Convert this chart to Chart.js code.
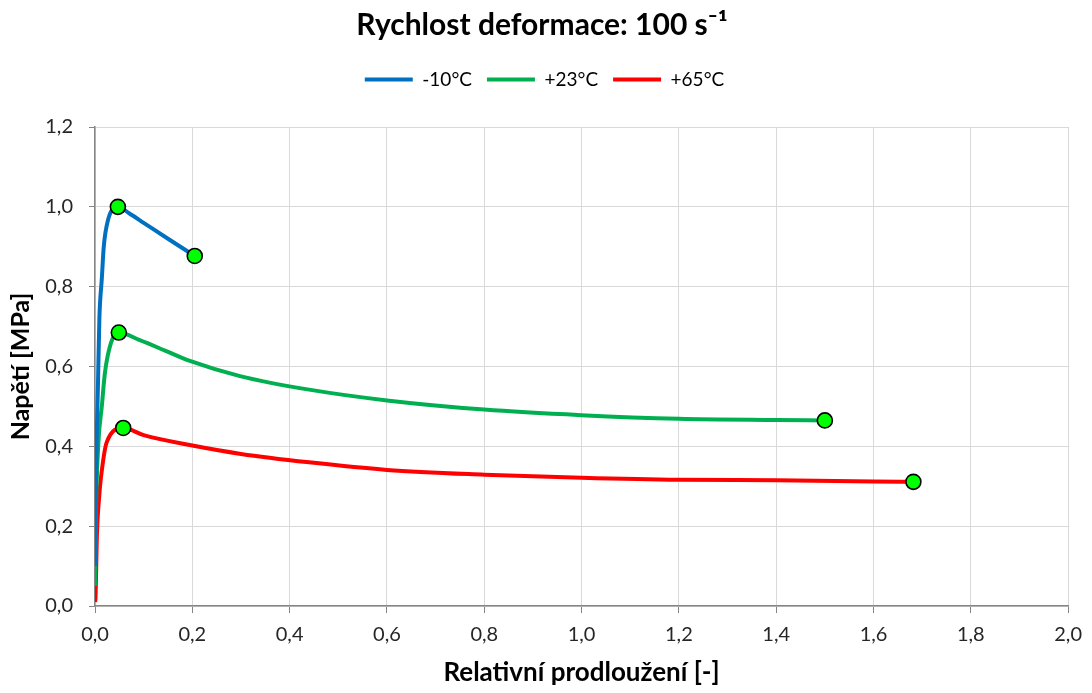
<!DOCTYPE html>
<html>
<head>
<meta charset="utf-8">
<script src="https://cdn.jsdelivr.net/npm/chart.js@4.4.1/dist/chart.umd.min.js"></script>
<style>
  html, body { margin: 0; padding: 0; background: #ffffff; }
  #wrap { width: 1092px; height: 693px; position: relative; }
</style>
</head>
<body>
<div id="wrap"><canvas id="c" width="1092" height="693"></canvas></div>
<script>
// Stress–strain curves at strain rate 100 s^-1 for three temperatures
const seriesNames = ['-10°C', '+23°C', '+65°C'];
const seriesColors = ['#0070c0', '#00b050', '#ff0000'];

const strainCold = [0.000, 0.002, 0.004, 0.006, 0.009, 0.014, 0.018, 0.027, 0.047, 0.070, 0.100, 0.150, 0.205];
const stressCold = [0.10, 0.30, 0.45, 0.55, 0.72, 0.82, 0.90, 0.968, 1.00, 0.984, 0.960, 0.920, 0.877];

const strainRoom = [0.000, 0.002, 0.007, 0.014, 0.0205, 0.033, 0.049, 0.092, 0.144, 0.195, 0.298, 0.44, 0.60, 0.80, 1.00, 1.20, 1.40, 1.50];
const stressRoom = [0.05, 0.24, 0.41, 0.50, 0.585, 0.66, 0.685, 0.666, 0.640, 0.614, 0.576, 0.542, 0.515, 0.492, 0.478, 0.469, 0.466, 0.465];

const strainHot = [0.000, 0.001, 0.004, 0.009, 0.0117, 0.024, 0.058, 0.10, 0.20, 0.30, 0.44, 0.60, 0.80, 1.00, 1.20, 1.40, 1.60, 1.682];
const stressHot = [0.01, 0.02, 0.18, 0.28, 0.316, 0.41, 0.446, 0.428, 0.402, 0.381, 0.360, 0.341, 0.329, 0.321, 0.316, 0.315, 0.312, 0.311];

// indices of the highlighted points (maximum stress and rupture) in each series
const markedCold = [8, 12];
const markedRoom = [6, 17];
const markedHot = [6, 17];

const xTickLabels = ['0,0', '0,2', '0,4', '0,6', '0,8', '1,0', '1,2', '1,4', '1,6', '1,8', '2,0'];
const yTickLabels = ['0,0', '0,2', '0,4', '0,6', '0,8', '1,0', '1,2'];

const FONT = 'Lato, "Open Sans", "Liberation Sans", sans-serif';

function pts(xs, ys) { return xs.map((x, i) => ({ x: x, y: ys[i] })); }

function makeSet(name, color, xs, ys, marked) {
  return {
    label: name,
    data: pts(xs, ys),
    borderColor: color,
    backgroundColor: color,
    borderWidth: 4,
    cubicInterpolationMode: 'monotone',
    pointRadius: ctx => marked.includes(ctx.dataIndex) ? 7.5 : 0,
    pointHoverRadius: 0,
    pointBackgroundColor: '#00ff00',
    pointBorderColor: '#000000',
    pointBorderWidth: 1.6,
    fill: false
  };
}

// extra room under the legend row, and title/legend centred a little to the right
const headerLayout = {
  id: 'headerLayout',
  afterInit(chart) {
    const lg = chart.legend;
    if (!lg) return;
    const fit = lg.fit;
    lg.fit = function () {
      fit.call(this);
      this.height += 28;
    };
  },
  afterLayout(chart) {
    if (chart.legend) chart.legend.left += 20;
    if (chart.titleBlock) chart.titleBlock.left += 15;
  }
};

new Chart(document.getElementById('c'), {
  type: 'line',
  data: {
    datasets: [
      makeSet(seriesNames[0], seriesColors[0], strainCold, stressCold, markedCold),
      makeSet(seriesNames[1], seriesColors[1], strainRoom, stressRoom, markedRoom),
      makeSet(seriesNames[2], seriesColors[2], strainHot, stressHot, markedHot)
    ]
  },
  plugins: [headerLayout],
  options: {
    responsive: false,
    animation: false,
    layout: { padding: { top: 0, right: 23, bottom: 0, left: 0 } },
    plugins: {
      tooltip: { enabled: false },
      title: {
        display: true,
        text: 'Rychlost deformace: 100 s\u207B\u00B9',
        color: '#000000',
        font: { family: FONT, size: 30, weight: 'bold' },
        padding: { top: 7, bottom: 12 }
      },
      legend: {
        display: true,
        labels: {
          usePointStyle: true,
          pointStyle: 'line',
          pointStyleWidth: 48,
          color: '#222222',
          padding: 15,
          font: { family: FONT, size: 19 },
          generateLabels: chart => chart.data.datasets.map((ds, i) => ({
            text: ds.label,
            strokeStyle: ds.borderColor,
            fillStyle: ds.borderColor,
            lineWidth: 4,
            pointStyle: 'line',
            hidden: false,
            datasetIndex: i
          }))
        }
      }
    },
    scales: {
      x: {
        type: 'linear',
        min: 0, max: 2,
        afterFit: s => { s.height = 87; },
        ticks: {
          stepSize: 0.2,
          color: '#262626',
          font: { family: FONT, size: 20 },
          padding: 10,
          maxRotation: 0,
          callback: (v, i) => xTickLabels[i]
        },
        grid: { color: '#d9d9d9', lineWidth: 1, tickLength: 7, tickColor: '#868686' },
        border: { color: '#868686', width: 1.5 },
        title: {
          display: true,
          text: 'Relativní prodloužení [-]',
          color: '#000000',
          font: { family: FONT, size: 26, weight: 'bold' },
          padding: { top: 0, bottom: 5 }
        }
      },
      y: {
        type: 'linear',
        min: 0, max: 1.2,
        afterFit: s => { s.width = 95; },
        ticks: {
          stepSize: 0.2,
          color: '#262626',
          font: { family: FONT, size: 20 },
          padding: 16,
          callback: (v, i) => yTickLabels[i]
        },
        grid: { color: '#d9d9d9', lineWidth: 1, tickLength: 6, tickColor: '#868686' },
        border: { color: '#868686', width: 1.5 },
        title: {
          display: true,
          text: 'Napětí [MPa]',
          color: '#000000',
          font: { family: FONT, size: 25, weight: 'bold' },
          padding: { top: 6, bottom: 0 }
        }
      }
    }
  }
});
</script>
</body>
</html>
